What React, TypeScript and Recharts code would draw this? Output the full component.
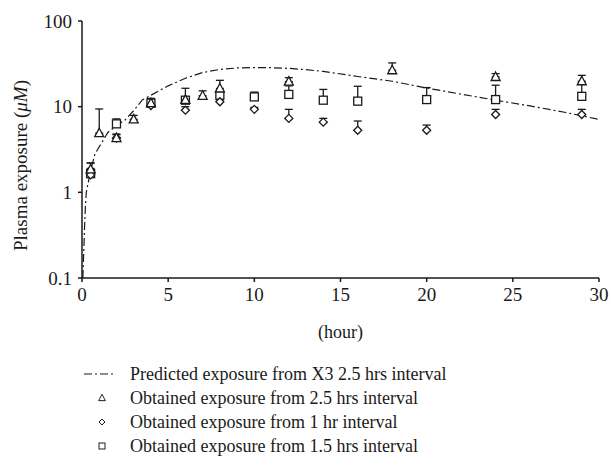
import React from 'react';
import { ScatterChart, Scatter, XAxis, YAxis, ErrorBar } from 'recharts';

// predicted curve (X3, 2.5 hrs interval)
const predHours = [0.05, 0.1, 0.15, 0.2, 0.25, 0.5, 0.75, 1, 1.5, 2, 2.5, 3, 3.5, 4, 5, 6, 7, 8, 9, 10, 11, 12, 13, 14, 16, 18, 20, 22, 24, 26, 28, 30];
const predValues = [0.1, 0.2, 0.4, 0.7, 1.0, 1.8, 2.8, 3.4, 5, 6, 7, 9, 12, 13.6, 17.5, 21.5, 25, 27.2, 28.3, 28.6, 28.5, 28, 27, 25.8, 22.5, 19.8, 16.5, 14, 11.9, 10.2, 8.6, 7.1];

// obtained, 2.5 hrs interval (triangles)
const triHours = [0.5, 1, 2, 3, 4, 6, 7, 8, 12, 18, 24, 29];
const triMeans = [1.85, 4.9, 4.3, 7.1, 11, 12, 13.4, 16.3, 19.6, 26.6, 22.2, 19.8];
const triUpper = [2.2, 9.4, 4.8, 7.9, 12, 13, 15.3, 20.3, 21.8, 32.4, 24.3, 23.2];

// obtained, 1 hr interval (diamonds)
const dmHours = [0.5, 2, 4, 6, 8, 10, 12, 14, 16, 20, 24, 29];
const dmMeans = [1.6, 4.3, 10.3, 9.1, 11.4, 9.3, 7.3, 6.6, 5.3, 5.3, 8.1, 8.1];
const dmUpper = [1.9, 4.7, 11, 10, 12, 9.8, 9.3, 7.3, 6.8, 6.1, 9.3, 9.3];

// obtained, 1.5 hrs interval (squares)
const sqHours = [0.5, 2, 4, 6, 8, 10, 12, 14, 16, 20, 24, 29];
const sqMeans = [1.65, 6.3, 11, 11.9, 13.6, 13, 13.9, 11.9, 11.6, 12.1, 12.1, 13.2];
const sqUpper = [2.2, 7.2, 12.5, 16.4, 15, 14.8, 17.5, 15.9, 17.3, 16.7, 17.8, 19];

const xTicks = [0, 5, 10, 15, 20, 25, 30];
const yTicks = [0.1, 1, 10, 100];

const FONT = "'Liberation Serif', 'DejaVu Serif', serif";
const INK = '#1a1a1a';

const legendLabels = [
  'Predicted exposure from X3 2.5 hrs interval',
  'Obtained exposure from 2.5 hrs interval',
  'Obtained exposure from 1 hr interval',
  'Obtained exposure from 1.5 hrs interval',
];

const toPoints = (hours: number[], vals: number[], upper?: number[]) =>
  hours.map((h, i) => ({
    x: h,
    y: vals[i],
    err: upper ? [0, Math.max(0, upper[i] - vals[i])] : [0, 0],
  }));

const predData = toPoints(predHours, predValues);
const triData = toPoints(triHours, triMeans, triUpper);
const dmData = toPoints(dmHours, dmMeans, dmUpper);
const sqData = toPoints(sqHours, sqMeans, sqUpper);

const Triangle = ({ cx, cy }: any) => (
  <path d={`M${cx},${cy - 5} L${cx + 4.5},${cy + 3.5} L${cx - 4.5},${cy + 3.5} Z`} fill="#fff" stroke={INK} strokeWidth={1.3} />
);
const Diamond = ({ cx, cy }: any) => (
  <path d={`M${cx},${cy - 4} L${cx + 4},${cy} L${cx},${cy + 4} L${cx - 4},${cy} Z`} fill="#fff" stroke={INK} strokeWidth={1.3} />
);
const Square = ({ cx, cy }: any) => (
  <rect x={cx - 4} y={cy - 4} width={8} height={8} fill="#fff" stroke={INK} strokeWidth={1.3} />
);
const NoDot = () => <g />;

const YLabel = ({ viewBox }: any) => {
  const x = viewBox.x + 17;
  const y = viewBox.y + viewBox.height / 2 + 16;
  return (
    <text x={x} y={y} transform={`rotate(-90, ${x}, ${y})`} textAnchor="middle" fontFamily={FONT} fontSize={19} fill={INK}>
      Plasma exposure (<tspan fontStyle="italic">μM</tspan>)
    </text>
  );
};

const XLabel = ({ viewBox }: any) => (
  <text x={viewBox.x + viewBox.width / 2} y={viewBox.y + 60} textAnchor="middle" fontFamily={FONT} fontSize={18} fill={INK}>
    (hour)
  </text>
);

function LegendSymbol({ idx }: { idx: number }) {
  if (idx === 0) {
    return (
      <svg width={44} height={12}>
        <line x1={4} y1={6} x2={36} y2={6} stroke={INK} strokeWidth={1.2} strokeDasharray="8 3 2 3" />
      </svg>
    );
  }
  const Shape = idx === 1 ? Triangle : idx === 2 ? Diamond : Square;
  return (
    <svg width={44} height={12}>
      <g transform="translate(22,6) scale(0.75)">
        <Shape cx={0} cy={0} />
      </g>
    </svg>
  );
}

export default function App() {
  return (
    <div style={{ position: 'absolute', left: 0, top: 0, width: 611, height: 466, background: '#fff', fontFamily: FONT }}>
      <ScatterChart width={611} height={342} margin={{ top: 21, right: 12, left: 10, bottom: 0 }}>
        <XAxis
          type="number"
          dataKey="x"
          domain={[0, 30]}
          ticks={xTicks}
          tickSize={4}
          tickMargin={6}
          height={64}
          stroke={INK}
          strokeWidth={1.5}
          tick={{ fontFamily: FONT, fontSize: 19, fill: INK }}
          label={<XLabel />}
          allowDataOverflow
        />
        <YAxis
          type="number"
          dataKey="y"
          scale="log"
          domain={[0.1, 100]}
          ticks={yTicks}
          tickSize={4}
          tickMargin={6}
          width={72}
          stroke={INK}
          strokeWidth={1.5}
          tick={{ fontFamily: FONT, fontSize: 19, fill: INK }}
          label={<YLabel />}
          allowDataOverflow
        />
        <Scatter
          data={predData}
          line={{ stroke: INK, strokeWidth: 1.2, strokeDasharray: '8 3 2 3' }}
          lineType="joint"
          shape={<NoDot />}
          isAnimationActive={false}
        />
        <Scatter data={sqData} shape={<Square />} isAnimationActive={false}>
          <ErrorBar dataKey="err" direction="y" width={4} stroke={INK} strokeWidth={1.3} />
        </Scatter>
        <Scatter data={dmData} shape={<Diamond />} isAnimationActive={false}>
          <ErrorBar dataKey="err" direction="y" width={4} stroke={INK} strokeWidth={1.3} />
        </Scatter>
        <Scatter data={triData} shape={<Triangle />} isAnimationActive={false}>
          <ErrorBar dataKey="err" direction="y" width={4} stroke={INK} strokeWidth={1.3} />
        </Scatter>
      </ScatterChart>
      {legendLabels.map((label, i) => (
        <div
          key={label}
          style={{ position: 'absolute', left: 80, top: 362 + i * 24, height: 24, display: 'flex', alignItems: 'center', fontSize: 18, color: INK, whiteSpace: 'nowrap' }}
        >
          <LegendSymbol idx={i} />
          <span style={{ marginLeft: 6 }}>{label}</span>
        </div>
      ))}
    </div>
  );
}
